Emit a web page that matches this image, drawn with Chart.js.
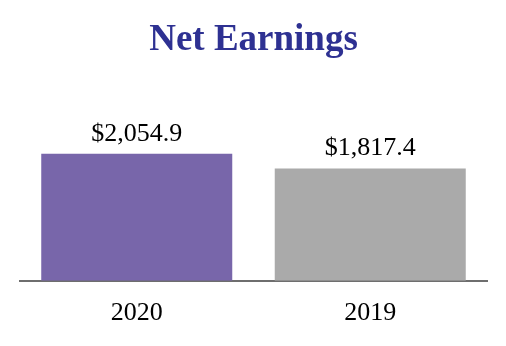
<!DOCTYPE html>
<html>
<head>
<meta charset="utf-8">
<script src="https://cdn.jsdelivr.net/npm/chart.js@4"></script>
<style>
html,body{margin:0;padding:0;background:#fff;}
#wrap{width:506px;height:346px;position:relative;}
</style>
</head>
<body>
<div id="wrap"><canvas id="c" width="506" height="346"></canvas></div>
<script>
const categories = ['2020', '2019'];
const netEarnings = [2054.9, 1817.4];
const barColors = ['#7866AA', '#AAAAAA'];
const titleText = 'Net Earnings';

const serif = "'Liberation Serif', 'Times New Roman', serif";

const valueLabels = {
  id: 'valueLabels',
  afterDatasetsDraw(chart) {
    const ctx = chart.ctx;
    const meta = chart.getDatasetMeta(0);
    ctx.save();
    ctx.font = '26px ' + serif;
    ctx.fillStyle = '#000';
    ctx.textAlign = 'center';
    ctx.textBaseline = 'alphabetic';
    meta.data.forEach((bar, i) => {
      const v = chart.data.datasets[0].data[i];
      const txt = '$' + v.toLocaleString('en-US', {minimumFractionDigits: 1, maximumFractionDigits: 1});
      ctx.fillText(txt, bar.x, bar.y - 13);
    });
    ctx.restore();
  }
};

new Chart(document.getElementById('c'), {
  type: 'bar',
  data: {
    labels: categories,
    datasets: [{
      data: netEarnings,
      backgroundColor: barColors,
      borderWidth: 0,
      barPercentage: 0.818,
      categoryPercentage: 1.0
    }]
  },
  options: {
    responsive: false,
    animation: false,
    layout: { padding: { top: 10, left: 20, right: 19, bottom: 0 } },
    plugins: {
      legend: { display: false },
      tooltip: { enabled: false },
      title: {
        display: true,
        text: titleText,
        color: '#2E3192',
        font: { family: serif, size: 37, weight: 'bold', lineHeight: 1.2 },
        padding: { top: 8, bottom: 33 }
      }
    },
    scales: {
      x: {
        grid: { display: false, drawTicks: false },
        border: { display: true, color: '#6E6E6E', width: 2 },
        ticks: { color: '#000', font: { family: serif, size: 26, lineHeight: 1.2 }, padding: 17 }
      },
      y: {
        display: false,
        min: 0,
        max: 3000
      }
    }
  },
  plugins: [valueLabels]
});
</script>
</body>
</html>
